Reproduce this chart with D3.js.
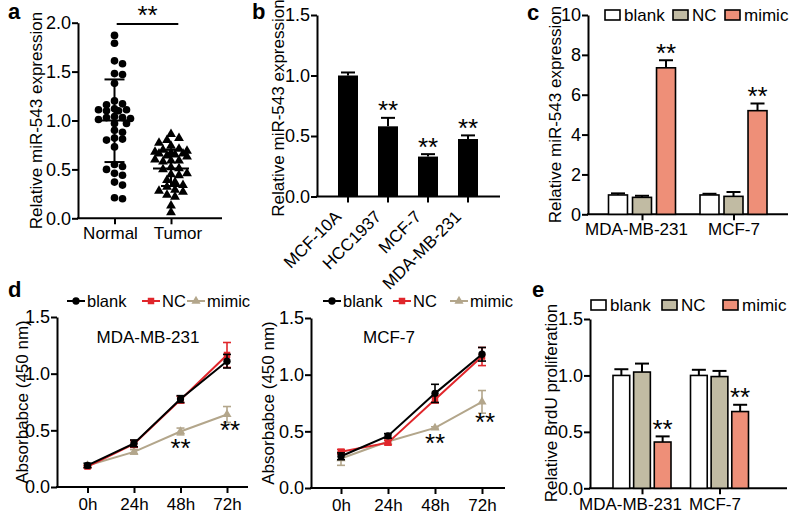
<!DOCTYPE html>
<html><head><meta charset="utf-8">
<script src="https://cdn.jsdelivr.net/npm/d3@7"></script>
<style>body{margin:0;background:#fff}svg{display:block}</style>
</head><body>
<svg id="chart" width="800" height="515"></svg>
<script>
// ---------- DATA ----------
// Panel a
const scatterGroups = ["Normal", "Tumor"];
const normalValues = [1.87,1.79,1.61,1.58,1.48,1.47,1.38,1.20,1.17,1.16,1.12,1.11,1.11,1.10,1.10,1.04,1.03,1.02,1.03,1.01,0.97,0.97,0.90,0.88,0.82,0.81,0.80,0.73,0.55,0.53,0.50,0.46,0.44,0.37,0.34,0.21,0.20];
const tumorValues = [0.87,0.83,0.81,0.78,0.75,0.72,0.71,0.70,0.69,0.68,0.67,0.67,0.66,0.65,0.64,0.61,0.60,0.60,0.59,0.53,0.52,0.51,0.47,0.46,0.45,0.40,0.38,0.35,0.33,0.30,0.29,0.28,0.25,0.23,0.14,0.07];
const scatterMean = [1.00, 0.51];
const scatterSdHigh = [1.42, 0.70];
const scatterSdLow = [0.575, 0.33];
const ticksA = [0, 0.5, 1.0, 1.5, 2.0];

// Panel b
const cellLines = ["MCF-10A", "HCC1937", "MCF-7", "MDA-MB-231"];
const cellValues = [1.00, 0.58, 0.33, 0.475];
const cellErrors = [0.025, 0.07, 0.02, 0.03];
const cellSig = ["", "**", "**", "**"];
const ticksB = [0, 0.5, 1.0, 1.5];

// Panel c / e groups
const treatGroups = ["MDA-MB-231", "MCF-7"];
const seriesNames = ["blank", "NC", "mimic"];
const cValues = { blank: [0.97, 0.97], NC: [0.85, 0.90], mimic: [7.35, 5.20] };
const cErrors = { blank: [0.08, 0.06], NC: [0.08, 0.22], mimic: [0.38, 0.36] };
const cSig = ["**", "**"];
const ticksC = [0, 2, 4, 6, 8, 10];

// Panel d
const timePoints = ["0h", "24h", "48h", "72h"];
const dLeftValues = { blank: [0.19, 0.385, 0.776, 1.11], NC: [0.18, 0.38, 0.77, 1.165], mimic: [0.19, 0.31, 0.49, 0.64] };
const dLeftErrors = { blank: [0.02, 0.03, 0.03, 0.06], NC: [0.01, 0.03, 0.03, 0.11], mimic: [0.01, 0.02, 0.03, 0.07] };
const dRightValues = { blank: [0.28, 0.46, 0.835, 1.18], NC: [0.32, 0.40, 0.78, 1.16], mimic: [0.26, 0.41, 0.53, 0.76] };
const dRightErrors = { blank: [0.03, 0.02, 0.08, 0.06], NC: [0.02, 0.02, 0.03, 0.08], mimic: [0.06, 0.02, 0.01, 0.10] };
const dSigIndex = [2, 3];
const ticksD = [0, 0.5, 1.0, 1.5];

// Panel e
const eValues = { blank: [1.00, 1.00], NC: [1.03, 0.99], mimic: [0.41, 0.68] };
const eErrors = { blank: [0.055, 0.05], NC: [0.075, 0.05], mimic: [0.05, 0.06] };
const eSig = ["**", "**"];

// ---------- STYLE ----------
const FONT = '"Liberation Sans", Arial, Helvetica, sans-serif';
const FS = 17;
const TICKFS = 18;
const STARFS = 26;
const barFill = { blank: "#ffffff", NC: "#c1bba3", mimic: "#ee8f78" };
const lineColor = { blank: "#000000", NC: "#e0262b", mimic: "#b3a68b" };

const svg = d3.select("#chart");
svg.append("rect").attr("width", 800).attr("height", 515).attr("fill", "#fff");

function yAxis(scale, x, ticks, fmt) {
  const g = svg.append("g").attr("transform", `translate(${x},0)`)
    .call(d3.axisLeft(scale).tickValues(ticks).tickFormat(fmt).tickSize(6).tickSizeOuter(0).tickPadding(1));
  g.selectAll("path,line").attr("stroke", "#000").attr("stroke-width", 2);
  g.selectAll("text").attr("font-family", FONT).attr("font-size", TICKFS).attr("fill", "#000");
  return g;
}
function xAxis(scale, y, x0, x1, labelDx, pad) {
  const g = svg.append("g").attr("transform", `translate(0,${y})`)
    .call(d3.axisBottom(scale).tickSize(6).tickSizeOuter(0).tickPadding(pad == null ? 3 : pad));
  g.select(".domain").remove();
  g.append("line").attr("x1", x0 - 1).attr("x2", x1).attr("stroke", "#000").attr("stroke-width", 2);
  g.selectAll("line").attr("stroke", "#000").attr("stroke-width", 2);
  g.selectAll("text").attr("font-family", FONT).attr("font-size", FS).attr("fill", "#000");
  if (labelDx) g.selectAll(".tick text").attr("dx", (d, i) => labelDx[i]);
  return g;
}
function yTitle(text, x, yMid) {
  svg.append("text").attr("transform", `translate(${x},${yMid}) rotate(-90)`)
    .attr("text-anchor", "middle").attr("dominant-baseline", "central")
    .attr("font-family", FONT).attr("font-size", FS).text(text);
}
function panelLetter(t, x, y) {
  svg.append("text").attr("x", x).attr("y", y).attr("font-family", FONT)
    .attr("font-weight", "bold").attr("font-size", 22).text(t);
}
function stars(t, x, yCenter) {
  svg.append("text").attr("x", x).attr("y", yCenter + 0.36 * STARFS).attr("text-anchor", "middle")
    .attr("font-family", FONT).attr("font-size", STARFS).text(t);
}
const f1 = d3.format(".1f");

// ---------- PANEL a ----------
{
  const y = d3.scaleLinear().domain([0, 2]).range([218.3, 22.7]);
  const x = d3.scalePoint().domain(scatterGroups).range([114.5, 171]);
  yAxis(y, 78, ticksA, f1);
  xAxis(x, 218.3, 78, 222, [-4.5, 6.5]);
  yTitle("Relative miR-543 expression", 36, 120.5);
  panelLetter("a", 8, 19);

  const cands = [0, 4, -4, 8, -8, 12, -12, 16, -16];
  function swarm(values, minDist) {
    const placed = [];
    values.map(v => v).sort((a, b) => b - a).forEach(v => {
      const py = y(v);
      let best = null, bestD = -1;
      for (const off of cands) {
        const d = placed.length ? d3.min(placed, q => Math.hypot(q.dx - off, q.py - py)) : Infinity;
        if (d >= minDist) { best = off; break; }
        if (d > bestD) { bestD = d; best = off; }
      }
      placed.push({ dx: best, py });
    });
    return placed;
  }
  [normalValues, tumorValues].forEach((vals, gi) => {
    const cx = x(scatterGroups[gi]);
    const pts = swarm(vals, 6.8);
    const sym = gi === 0 ? d3.symbolCircle : d3.symbolTriangle;
    svg.append("g").selectAll("path").data(pts).join("path")
      .attr("d", d3.symbol().type(sym).size(gi === 0 ? 46 : 42))
      .attr("transform", d => `translate(${cx + d.dx},${d.py + (gi === 1 ? 1 : 0)})`)
      .attr("fill", "#000");
    const g = svg.append("g").attr("stroke", "#000").attr("stroke-width", 2);
    g.append("line").attr("x1", cx - 18).attr("x2", cx + 18).attr("y1", y(scatterMean[gi])).attr("y2", y(scatterMean[gi]));
    g.append("line").attr("x1", cx).attr("x2", cx).attr("y1", y(scatterSdHigh[gi])).attr("y2", y(scatterSdLow[gi]));
    [scatterSdHigh[gi], scatterSdLow[gi]].forEach(v =>
      g.append("line").attr("x1", cx - 10).attr("x2", cx + 10).attr("y1", y(v)).attr("y2", y(v)));
  });
  svg.append("line").attr("x1", 116.7).attr("x2", 178.3).attr("y1", 24).attr("y2", 24)
    .attr("stroke", "#000").attr("stroke-width", 2);
  stars("**", 147.5, 15);
}

// ---------- PANEL b ----------
{
  const y = d3.scaleLinear().domain([0, 1.5]).range([196.5, 15]);
  const x = d3.scaleBand().domain(cellLines).range([328, 488]).paddingInner(0.5).paddingOuter(0.25);
  yAxis(y, 317, ticksB, f1);
  const ax = xAxis(x, 196.5, 317, 500);
  ax.selectAll(".tick text").attr("text-anchor", "end").attr("y", 0)
    .attr("transform", "translate(-10,17) rotate(-45)").attr("dy", "0.35em").attr("dx", "0");
  yTitle("Relative miR-543 expression", 278, 108);
  panelLetter("b", 252, 19);
  const g = svg.append("g");
  cellLines.forEach((c, i) => {
    const cx = x(c) + x.bandwidth() / 2;
    const top = cellValues[i] + cellErrors[i];
    g.append("line").attr("x1", cx).attr("x2", cx).attr("y1", y(cellValues[i])).attr("y2", y(top))
      .attr("stroke", "#000").attr("stroke-width", 2);
    g.append("line").attr("x1", cx - 7).attr("x2", cx + 7).attr("y1", y(top)).attr("y2", y(top))
      .attr("stroke", "#000").attr("stroke-width", 2);
    g.append("rect").attr("x", x(c)).attr("width", x.bandwidth()).attr("y", y(cellValues[i]))
      .attr("height", y(0) - y(cellValues[i])).attr("fill", "#000");
    if (cellSig[i]) stars(cellSig[i], cx, y(top) - 8);
  });
}

function groupedBars(y, gx, inner, values, errors, sig, capW) {
  const g = svg.append("g");
  treatGroups.forEach((grp, gi) => {
    seriesNames.forEach(s => {
      const bx = gx(grp) + inner(s);
      const v = values[s][gi], e = errors[s][gi];
      const cx = bx + inner.bandwidth() / 2;
      g.append("line").attr("x1", cx).attr("x2", cx).attr("y1", y(v)).attr("y2", y(v + e)).attr("stroke", "#000").attr("stroke-width", 2);
      g.append("line").attr("x1", cx - capW).attr("x2", cx + capW).attr("y1", y(v + e)).attr("y2", y(v + e)).attr("stroke", "#000").attr("stroke-width", 2);
      g.append("rect").attr("x", bx).attr("y", y(v)).attr("width", inner.bandwidth()).attr("height", y(0) - y(v))
        .attr("fill", barFill[s]).attr("stroke", "#000").attr("stroke-width", 1.6);
      if (s === "mimic") stars(sig[gi], cx, y(v + e) - 8);
    });
  });
}
function barLegend(xs, yc, w, h) {
  seriesNames.forEach((s, i) => {
    svg.append("rect").attr("x", xs[i]).attr("y", yc - h / 2).attr("width", w).attr("height", h)
      .attr("fill", barFill[s]).attr("stroke", "#000").attr("stroke-width", 1.6);
    svg.append("text").attr("x", xs[i] + w + 4).attr("y", yc).attr("dominant-baseline", "central")
      .attr("font-family", FONT).attr("font-size", FS).text(s);
  });
}

// ---------- PANEL c ----------
{
  const y = d3.scaleLinear().domain([0, 10]).range([214.3, 15]);
  const gx = d3.scalePoint().domain(treatGroups).range([642, 733.5]);
  const inner = d3.scaleBand().domain(seriesNames).range([-33.5, 33.5]).paddingInner(0.21);
  yAxis(y, 588, ticksC, d3.format("d"));
  xAxis(gx, 214.3, 588, 788, [-6, 0]);
  yTitle("Relative miR-543 expression", 555, 114.5);
  panelLetter("c", 527, 20);
  groupedBars(y, gx, inner, cValues, cErrors, cSig, 7);
  barLegend([605, 673, 725], 15, 15, 10);
}

// ---------- PANEL d ----------
function linePanel(x0, x1, axisX, axisEnd, yRange, values, errors, subtitle, subX, legendX, titleX, starGap) {
  const y = d3.scaleLinear().domain([0, 1.5]).range(yRange);
  const x = d3.scalePoint().domain(timePoints).range([x0, x1]);
  yAxis(y, axisX, ticksD, f1);
  xAxis(x, yRange[0], axisX, axisEnd, null, 5);
  yTitle("Absorbabce (450 nm)", titleX, (yRange[0] + yRange[1]) / 2);
  svg.append("text").attr("x", subX).attr("y", 337).attr("text-anchor", "middle").attr("dominant-baseline", "central")
    .attr("font-family", FONT).attr("font-size", FS).text(subtitle);
  const order = ["mimic", "NC", "blank"];
  const symType = { blank: d3.symbolCircle, NC: d3.symbolSquare, mimic: d3.symbolTriangle };
  const symSize = { blank: 42, NC: 42, mimic: 36 };
  order.forEach(s => {
    const g = svg.append("g");
    const line = d3.line().x((d, i) => x(timePoints[i])).y(d => y(d));
    values[s].forEach((v, i) => {
      const cx = x(timePoints[i]), e = errors[s][i];
      g.append("line").attr("x1", cx).attr("x2", cx).attr("y1", y(v - e)).attr("y2", y(v + e)).attr("stroke", lineColor[s]).attr("stroke-width", 1.6);
      [v - e, v + e].forEach(t => g.append("line").attr("x1", cx - 4).attr("x2", cx + 4).attr("y1", y(t)).attr("y2", y(t)).attr("stroke", lineColor[s]).attr("stroke-width", 1.6));
    });
    g.append("path").datum(values[s]).attr("d", line).attr("fill", "none").attr("stroke", lineColor[s]).attr("stroke-width", 2);
    g.selectAll("path.m").data(values[s]).join("path").attr("class", "m")
      .attr("d", d3.symbol().type(symType[s]).size(symSize[s]))
      .attr("transform", (d, i) => `translate(${x(timePoints[i])},${y(d)})`).attr("fill", lineColor[s]);
  });
  dSigIndex.forEach((i, k) => {
    const v = values.mimic[i], e = errors.mimic[i];
    const cx = x(timePoints[i]) + (i === 3 ? 3 : 0);
    stars("**", cx, y(v - e) + starGap[k]);
  });
  seriesNames.forEach((s, i) => {
    const lx = legendX[i], ly = 301;
    svg.append("line").attr("x1", lx).attr("x2", lx + 18).attr("y1", ly).attr("y2", ly).attr("stroke", lineColor[s]).attr("stroke-width", 2);
    svg.append("path").attr("d", d3.symbol().type(symType[s]).size(symSize[s])).attr("transform", `translate(${lx + 9},${ly})`).attr("fill", lineColor[s]);
    svg.append("text").attr("x", lx + 20).attr("y", ly).attr("dominant-baseline", "central")
      .attr("font-family", FONT).attr("font-size", 16.5).text(s);
  });
}
panelLetter("d", 8, 297);
linePanel(87.5, 227, 57, 248, [487, 317], dLeftValues, dLeftErrors, "MDA-MB-231", 148, [67, 142, 187], 22, [13, 7]);
linePanel(341, 482, 311, 505, [488, 318], dRightValues, dRightErrors, "MCF-7", 389, [323, 393, 450], 268, [14, 8]);

// ---------- PANEL e ----------
{
  const y = d3.scaleLinear().domain([0, 1.5]).range([488.3, 319]);
  const gx = d3.scalePoint().domain(treatGroups).range([642, 719.5]);
  const inner = d3.scaleBand().domain(seriesNames).range([-29, 29]).paddingInner(0.19);
  yAxis(y, 590, ticksD, f1);
  xAxis(gx, 488.3, 590, 787, [-12, -5], 4);
  yTitle("Relative BrdU proliferation", 551, 403);
  panelLetter("e", 532, 297);
  groupedBars(y, gx, inner, eValues, eErrors, eSig, 7);
  barLegend([591, 662, 723], 305, 15, 10);
}
</script>
</body></html>
